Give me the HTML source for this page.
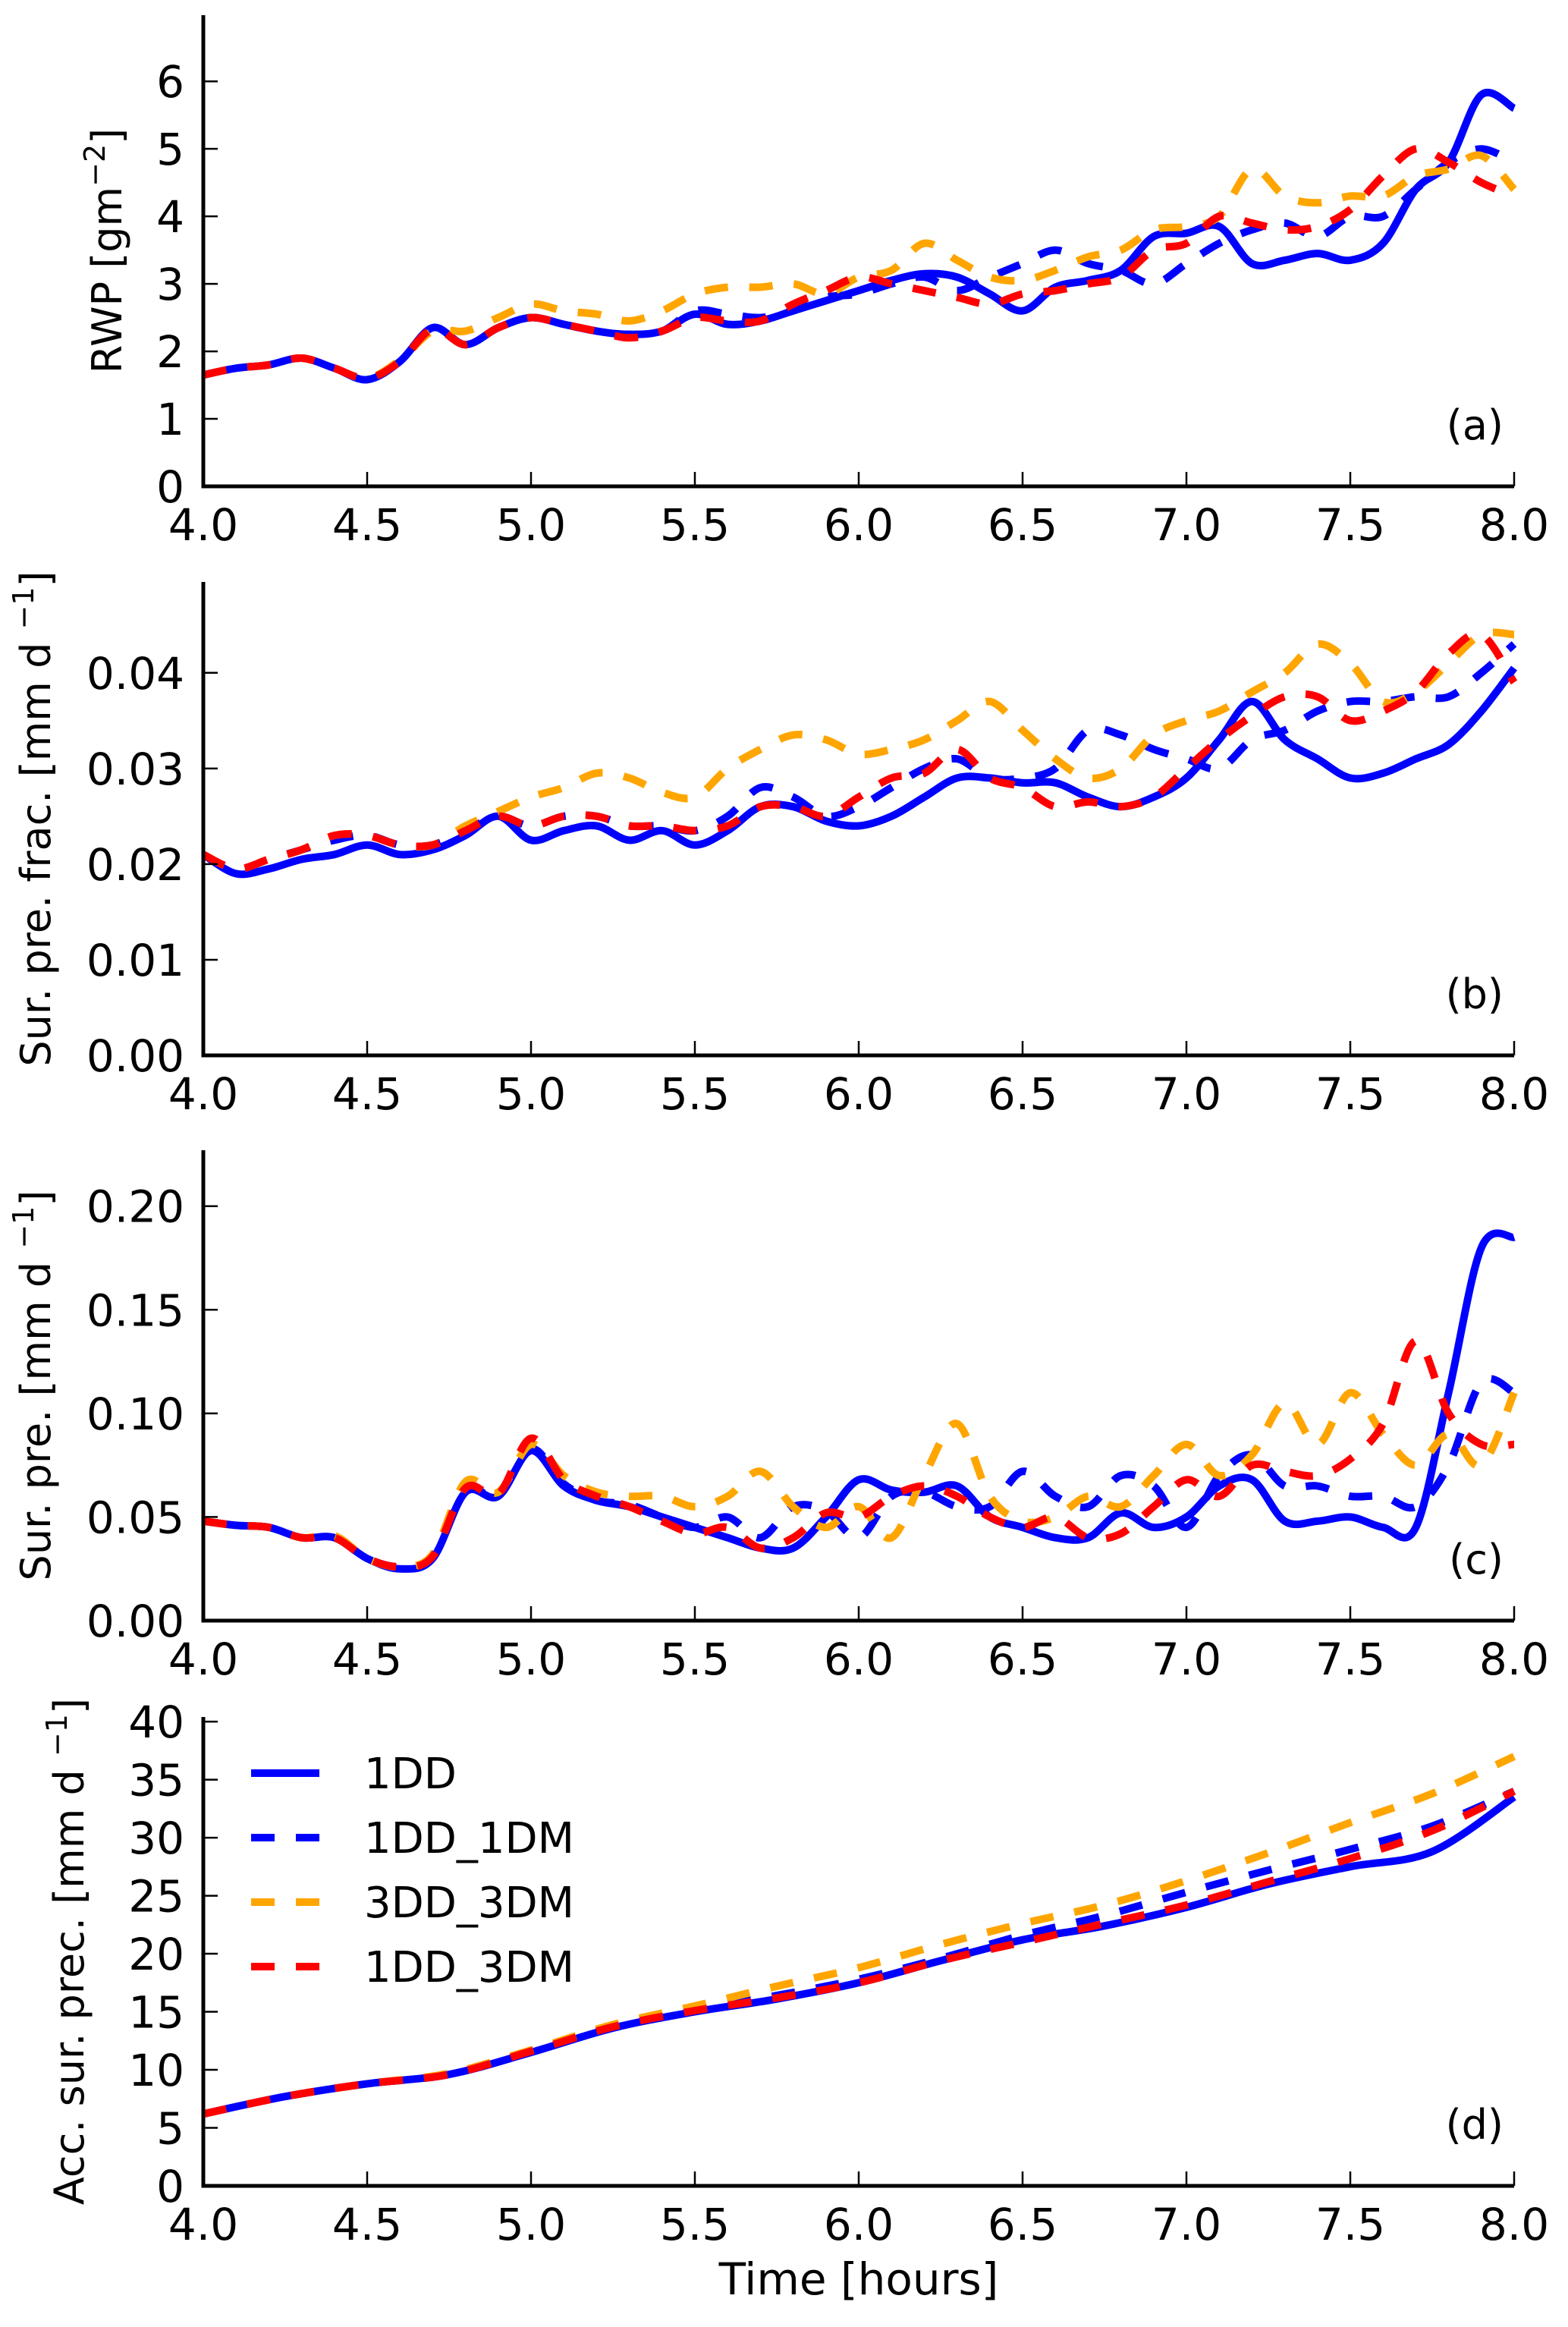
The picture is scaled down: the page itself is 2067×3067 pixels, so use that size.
<!DOCTYPE html>
<html><head><meta charset="utf-8">
<style>
html,body{margin:0;padding:0;background:#fff;}
svg{display:block;font-family:"DejaVu Sans","Liberation Sans",sans-serif;}
</style></head>
<body>
<svg id="fig" width="2067" height="3067" viewBox="0 0 2067 3067" xmlns="http://www.w3.org/2000/svg">
<rect width="2067" height="3067" fill="#fff"/>
</svg>
<script>
// ---------- data ----------
const xTicks = [4.0,4.5,5.0,5.5,6.0,6.5,7.0,7.5,8.0];
const xTickLabels = ["4.0","4.5","5.0","5.5","6.0","6.5","7.0","7.5","8.0"];
const seriesNames = ["1DD","1DD_1DM","3DD_3DM","1DD_3DM"];
const tA = [4.0,4.1,4.2,4.3,4.4,4.5,4.6,4.7,4.8,4.9,5.0,5.1,5.2,5.3,5.4,5.5,5.6,5.7,5.8,5.9,6.0,6.1,6.2,6.3,6.4,6.5,6.6,6.7,6.8,6.9,7.0,7.1,7.2,7.3,7.4,7.5,7.6,7.7,7.8,7.9,8.0];
const tD = [4.0,4.25,4.5,4.75,5.0,5.25,5.5,5.75,6.0,6.25,6.5,6.75,7.0,7.25,7.5,7.75,8.0];

// panel a: RWP
const rwp1DD   = [1.65,1.75,1.8,1.9,1.75,1.58,1.85,2.35,2.1,2.35,2.5,2.4,2.3,2.25,2.3,2.55,2.4,2.45,2.6,2.75,2.9,3.05,3.15,3.1,2.85,2.6,2.95,3.05,3.2,3.7,3.75,3.85,3.3,3.35,3.45,3.35,3.6,4.4,4.8,5.8,5.6];
const rwp1DM   = [1.65,1.75,1.8,1.9,1.75,1.6,1.85,2.33,2.1,2.35,2.5,2.4,2.3,2.25,2.3,2.6,2.55,2.5,2.6,2.8,2.85,3.0,3.1,2.9,3.1,3.3,3.5,3.3,3.2,3.0,3.3,3.6,3.8,3.9,3.7,4.0,4.0,4.4,4.8,5.0,4.8];
const rwp3DD   = [1.65,1.75,1.8,1.9,1.75,1.6,1.87,2.3,2.3,2.5,2.7,2.6,2.55,2.45,2.6,2.85,2.95,2.95,3.0,2.85,3.1,3.2,3.6,3.35,3.1,3.05,3.2,3.4,3.5,3.8,3.85,4.0,4.7,4.3,4.2,4.3,4.3,4.6,4.7,4.9,4.4];
const rwp3DM   = [1.65,1.75,1.8,1.9,1.75,1.6,1.85,2.33,2.1,2.35,2.5,2.4,2.3,2.2,2.3,2.5,2.45,2.45,2.7,2.9,3.1,3.0,2.9,2.8,2.7,2.85,2.9,3.0,3.1,3.5,3.6,4.0,3.9,3.8,3.85,4.1,4.6,5.0,4.8,4.5,4.3];
// panel b: surface precip fraction
const frac1DD  = [.021,.019,.0195,.0205,.021,.022,.021,.0215,.023,.025,.0225,.0235,.024,.0225,.0235,.022,.0235,.026,.026,.0245,.024,.025,.027,.029,.029,.0285,.0285,.027,.026,.027,.029,.033,.037,.033,.031,.029,.0295,.031,.0325,.036,.0405];
const frac1DM  = [.021,.0195,.0205,.0215,.0225,.023,.022,.022,.0235,.025,.024,.025,.025,.024,.024,.0235,.025,.028,.027,.025,.026,.028,.030,.031,.029,.029,.030,.034,.0335,.032,.031,.030,.033,.034,.036,.037,.037,.0375,.0375,.040,.043];
const frac3DD  = [.021,.0195,.0205,.0215,.023,.023,.022,.022,.024,.0255,.027,.028,.0295,.029,.0275,.027,.030,.032,.0335,.033,.0315,.032,.033,.035,.037,.034,.031,.029,.030,.0335,.035,.036,.038,.040,.043,.041,.037,.038,.041,.044,.044];
const frac3DM  = [.021,.0195,.0205,.0215,.023,.023,.022,.022,.0235,.025,.024,.025,.025,.024,.024,.0235,.024,.026,.026,.025,.027,.029,.0295,.032,.029,.028,.026,.0265,.026,.027,.030,.033,.0355,.0375,.0375,.035,.036,.038,.042,.044,.039];
// panel c: surface precip
const pre1DD   = [.048,.046,.045,.040,.040,.030,.025,.030,.062,.060,.082,.065,.058,.055,.050,.045,.040,.035,.035,.050,.068,.063,.062,.065,.050,.045,.040,.040,.052,.045,.050,.065,.068,.048,.048,.050,.045,.045,.110,.180,.185];
const pre1DM   = [.048,.046,.045,.040,.040,.030,.026,.031,.063,.060,.083,.066,.058,.056,.050,.045,.050,.040,.055,.053,.040,.060,.062,.055,.055,.072,.060,.055,.070,.065,.045,.070,.080,.065,.065,.060,.060,.055,.075,.115,.110];
const pre3DD   = [.048,.046,.045,.040,.041,.030,.026,.032,.067,.062,.085,.070,.062,.060,.060,.055,.060,.072,.055,.045,.055,.040,.070,.095,.060,.048,.050,.060,.055,.070,.085,.070,.080,.105,.085,.110,.090,.075,.090,.075,.110];
const pre3DM   = [.048,.046,.045,.040,.040,.030,.026,.031,.064,.061,.088,.068,.060,.055,.048,.042,.045,.035,.040,.052,.050,.060,.065,.060,.050,.045,.050,.040,.042,.055,.068,.060,.075,.072,.070,.078,.095,.135,.100,.085,.085];
// panel d: accumulated precip
const acc1DD   = [6.2,7.7,8.8,9.6,11.5,13.6,15.0,16.1,17.5,19.4,21.2,22.4,24.0,26.0,27.5,28.8,33.5];
const acc1DM   = [6.2,7.7,8.8,9.6,11.6,13.7,15.2,16.4,17.8,19.6,21.6,23.3,25.3,27.2,29.0,31.0,34.0];
const acc3DD   = [6.2,7.7,8.8,9.7,11.7,13.9,15.5,17.2,18.8,20.8,22.6,24.2,26.3,28.7,31.3,33.8,37.0];
const acc3DM   = [6.2,7.7,8.8,9.6,11.6,13.7,15.1,16.2,17.5,19.4,21.0,22.6,24.2,26.2,28.2,30.6,34.0];

const yTicksA = [0,1,2,3,4,5,6];
const yTicksB = [0,0.01,0.02,0.03,0.04];
const yTicksC = [0,0.05,0.10,0.15,0.20];
const yTicksD = [0,5,10,15,20,25,30,35,40];

// ---------- drawing ----------
const NS = "http://www.w3.org/2000/svg";
const svg = document.getElementById('fig');
const X0 = 268, X1 = 1996;
const styles = [
  {color:"#0000ff", dash:null},
  {color:"#0000ff", dash:"31,28"},
  {color:"#ffa500", dash:"31,28"},
  {color:"#ff0000", dash:"31,28"}
];
function mk(tag, attrs, parent){
  const e = document.createElementNS(NS, tag);
  for (const k in attrs) e.setAttribute(k, attrs[k]);
  (parent||svg).appendChild(e);
  return e;
}
function xScale(t){ return X0 + (t-4)/(8-4)*(X1-X0); }
function smoothPath(pts){
  let d = "M"+pts[0][0].toFixed(1)+","+pts[0][1].toFixed(1);
  for (let i=0;i<pts.length-1;i++){
    const p0=pts[Math.max(0,i-1)], p1=pts[i], p2=pts[i+1], p3=pts[Math.min(pts.length-1,i+2)];
    const c1x=p1[0]+(p2[0]-p0[0])/6, c1y=p1[1]+(p2[1]-p0[1])/6;
    const c2x=p2[0]-(p3[0]-p1[0])/6, c2y=p2[1]-(p3[1]-p1[1])/6;
    d += " C"+c1x.toFixed(1)+","+c1y.toFixed(1)+" "+c2x.toFixed(1)+","+c2y.toFixed(1)+" "+p2[0].toFixed(1)+","+p2[1].toFixed(1);
  }
  return d;
}
function panel(id, top, bottom, ymax, yTicks, fmt, times, series, tag, ylabelParts, ylabelX){
  const g = mk('g', {});
  
  
  const yScale = v => bottom - v/ymax*(bottom-top);
  const clipId = 'clip-'+id;
  const cp = mk('clipPath', {id:clipId}, g);
  mk('rect', {x:X0, y:top-6, width:X1-X0+8, height:bottom-top+6}, cp);
  const lines = mk('g', {'clip-path':'url(#'+clipId+')'}, g);
  series.forEach((vals, si) => {
    const pts = vals.map((v,i)=>[xScale(times[i]), yScale(v)]);
    const p = mk('path', {d:smoothPath(pts), fill:'none', stroke:styles[si].color, 'stroke-width':10, 'stroke-linejoin':'round'}, lines);
    if (styles[si].dash) p.setAttribute('stroke-dasharray', styles[si].dash);
    
    
  });
  // y ticks
  yTicks.forEach(v => {
    const y = yScale(v);
    mk('line', {x1:X0, x2:X0+19, y1:y, y2:y, stroke:'#000', 'stroke-width':2.5}, g);
    const t = mk('text', {x:243, y:y+21, 'font-size':58, 'text-anchor':'end', fill:'#000'}, g);
    t.textContent = fmt(v);
    
    
  });
  // x ticks
  xTicks.forEach((v,i) => {
    const x = xScale(v);
    mk('line', {x1:x, x2:x, y1:bottom, y2:bottom-19, stroke:'#000', 'stroke-width':2.5}, g);
    const t = mk('text', {x:x, y:bottom+71, 'font-size':58, 'text-anchor':'middle', fill:'#000'}, g);
    t.textContent = xTickLabels[i];
    
    
  });
  // spines
  mk('line', {x1:X0, x2:X0, y1:top, y2:bottom+2.5, stroke:'#000', 'stroke-width':5}, g);
  mk('line', {x1:X0-2.5, x2:X1, y1:bottom, y2:bottom, stroke:'#000', 'stroke-width':5}, g);
  // panel tag
  const pt = mk('text', {x:1982, y:bottom-62, 'font-size':54, 'text-anchor':'end', fill:'#000'}, g);
  pt.textContent = tag;
  
  
  // y label
  const cy = (top+bottom)/2;
  const yl = mk('text', {x:0, y:0, 'font-size':54, 'text-anchor':'middle', fill:'#000', transform:'translate('+ylabelX+','+cy+') rotate(-90)'}, g);
  ylabelParts.forEach(p => {
    const ts = mk('tspan', {}, yl);
    ts.textContent = p[0];
    if (p[1]) { ts.setAttribute('font-size', 38); ts.setAttribute('dy', -22); }
    else if (p[2]) { ts.setAttribute('dy', 22); }
  });
  
  
}
const f0 = v => v.toFixed(0), f2 = v => v.toFixed(2);
panel('a', 20, 641, 6.98, yTicksA, f0, tA, [rwp1DD,rwp1DM,rwp3DD,rwp3DM], '(a)', [["RWP [gm"],["\u22122",1],["]",0,1]], 160);
panel('b', 767, 1391, 0.0495, yTicksB, f2, tA, [frac1DD,frac1DM,frac3DD,frac3DM], '(b)', [["Sur. pre. frac. [mm d "],["\u22121",1],["]",0,1]], 66);
panel('c', 1516, 2136, 0.227, yTicksC, f2, tA, [pre1DD,pre1DM,pre3DD,pre3DM], '(c)', [["Sur. pre. [mm d "],["\u22121",1],["]",0,1]], 66);
panel('d', 2263, 2881, 40.4, yTicksD, f0, tD, [acc1DD,acc1DM,acc3DD,acc3DM], '(d)', [["Acc. sur. prec. [mm d "],["\u22121",1],["]",0,1]], 110);

// legend
const lg = mk('g', {});


const legY = [2337, 2422, 2507, 2592];
seriesNames.forEach((n,i) => {
  const l = mk('line', {x1:331, x2:421, y1:legY[i], y2:legY[i], stroke:styles[i].color, 'stroke-width':10}, lg);
  if (styles[i].dash) l.setAttribute('stroke-dasharray', styles[i].dash);
  
  
  const t = mk('text', {x:480, y:legY[i]+20, 'font-size':56, fill:'#000'}, lg);
  t.textContent = n;
  
  
});

// x axis title
const xt = mk('text', {x:1132, y:3024, 'font-size':58, 'text-anchor':'middle', fill:'#000'});
xt.textContent = 'Time [hours]';


</script>
</body></html>
